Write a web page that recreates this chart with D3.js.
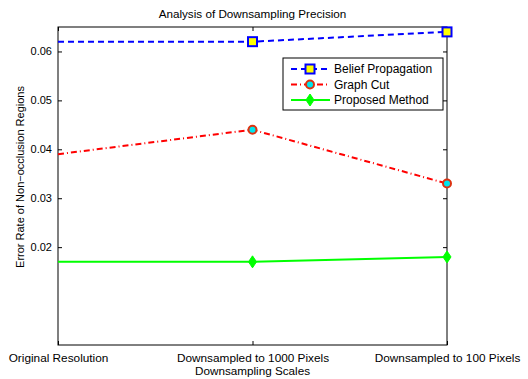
<!DOCTYPE html>
<html>
<head>
<meta charset="utf-8">
<script src="https://cdn.jsdelivr.net/npm/d3@7"></script>
<style>
  body { margin: 0; background: #fff; }
  text { font-family: "Liberation Sans", Arial, sans-serif; fill: #000; }
</style>
</head>
<body>
<div id="canvas"></div>
<script>
// data
var categories = ['Original Resolution', 'Downsampled to 1000 Pixels', 'Downsampled to 100 Pixels'];
var beliefProp = [0.062, 0.062, 0.064];
var graphCut = [0.039, 0.044, 0.033];
var proposed = [0.017, 0.017, 0.018];
var yTicks = [0.02, 0.03, 0.04, 0.05, 0.06];

var W = 528, H = 379;
var m = {t:27, r:81, b:34, l:58};
var w = W - m.l - m.r, h = H - m.t - m.b;

var svg = d3.select('#canvas').append('svg')
    .attr('width', W).attr('height', H);
var plot = svg.append('g')
    .attr('transform', 'translate(' + m.l + ',' + m.t + ')');

var x = d3.scalePoint().domain(categories).range([0, w]);
var y = d3.scaleLinear().domain([0, 0.065]).range([h, 0]);

// axes (matlab style, ticks inside on all sides)
var ay = plot.append('g')
    .call(d3.axisLeft(y).tickValues(yTicks).tickSize(-4).tickPadding(6).tickFormat(d3.format('.2f')));
ay.selectAll('.tick text').attr('font-size', 11);
plot.append('g').attr('transform','translate(' + w + ',0)')
    .call(d3.axisRight(y).tickValues(yTicks).tickSize(-4).tickFormat(''));
var ax = plot.append('g').attr('transform','translate(0,' + h + ')')
    .call(d3.axisBottom(x).tickSize(-4).tickPadding(9));
ax.selectAll('.tick text').attr('font-size', 11.8);
plot.append('g')
    .call(d3.axisTop(x).tickSize(-4).tickFormat(''));
plot.selectAll('.domain').remove();
plot.selectAll('.tick line').attr('stroke', '#000');
plot.selectAll('.tick text').attr('font-family','"Liberation Sans", Arial, sans-serif').attr('fill','#000');
plot.append('rect').attr('width', w).attr('height', h)
    .attr('fill','none').attr('stroke','#000').attr('stroke-width',1);

var line = d3.line().x(function(d,i){ return x(categories[i]); }).y(function(d){ return y(d); });

var series = [
  {name:'Belief Propagation', values:beliefProp, color:'#0000ff', dash:'6,4', marker:'square', mfill:'#ffff00', medge:'#0000ff'},
  {name:'Graph Cut', values:graphCut, color:'#ff0000', dash:'6,3,1,3', marker:'circle', mfill:'#00e5ee', medge:'#dd3311'},
  {name:'Proposed Method', values:proposed, color:'#00ff00', dash:null, marker:'diamond', mfill:'#00ff00', medge:'#00ff00'}
];

function drawMarker(g, s, cx, cy) {
  if (s.marker === 'square') {
    g.append('rect').attr('x', cx-4.5).attr('y', cy-4.5).attr('width', 9).attr('height', 9)
      .attr('fill', s.mfill).attr('stroke', s.medge).attr('stroke-width', 2);
  } else if (s.marker === 'circle') {
    g.append('circle').attr('cx', cx).attr('cy', cy).attr('r', 4)
      .attr('fill', s.mfill).attr('stroke', s.medge).attr('stroke-width', 2);
  } else {
    g.append('path').attr('d', 'M' + cx + ',' + (cy-6) + 'L' + (cx+4) + ',' + cy + 'L' + cx + ',' + (cy+6) + 'L' + (cx-4) + ',' + cy + 'Z')
      .attr('fill', s.mfill).attr('stroke', s.medge).attr('stroke-width', 1);
  }
}

series.forEach(function(s){
  plot.append('path').datum(s.values)
    .attr('d', line).attr('fill','none')
    .attr('stroke', s.color).attr('stroke-width', 2)
    .attr('stroke-dasharray', s.dash);
  var mg = plot.append('g');
  s.values.forEach(function(v,i){
    if (i === 0) return; // first point has no marker in the picture
    drawMarker(mg, s, x(categories[i]), y(v));
  });
});

// legend
var lg = svg.append('g').attr('transform','translate(283,58)');
lg.append('rect').attr('width',160).attr('height',52)
  .attr('fill','#fff').attr('stroke','#000').attr('stroke-width',1);
series.forEach(function(s,i){
  var yy = 11 + i*15.5;
  lg.append('line').attr('x1',8).attr('x2',47).attr('y1',yy).attr('y2',yy)
    .attr('stroke', s.color).attr('stroke-width',2).attr('stroke-dasharray', s.dash);
  drawMarker(lg, s, 27, yy);
  lg.append('text').attr('x',51).attr('y',yy+4).attr('font-size',12).text(s.name);
});

// titles
svg.append('text').attr('x', m.l + w/2).attr('y', 18).attr('text-anchor','middle')
  .attr('font-size',11.7).text('Analysis of Downsampling Precision');
svg.append('text').attr('x', m.l + w/2).attr('y', 375).attr('text-anchor','middle')
  .attr('font-size',11.7).text('Downsampling Scales');
svg.append('text').attr('transform','translate(24,177) rotate(-90)').attr('text-anchor','middle')
  .attr('font-size',11).text('Error Rate of Non\u2212occlusion Regions');
</script>
</body>
</html>
